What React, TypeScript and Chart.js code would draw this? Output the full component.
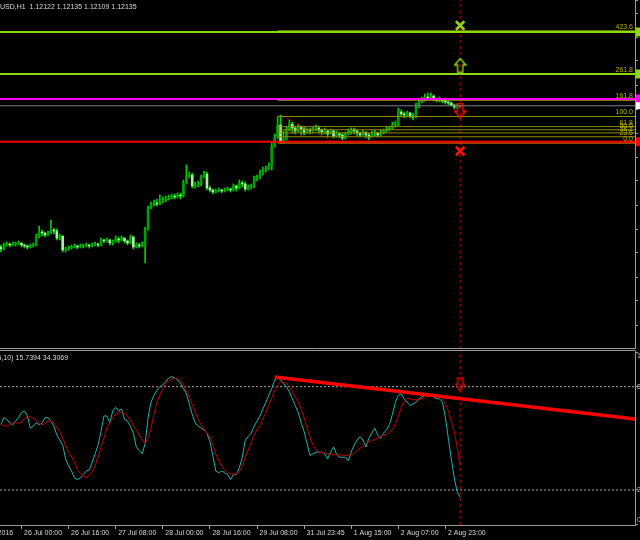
import React, { useEffect, useRef } from "react";
import { Chart, registerables } from "chart.js";

Chart.register(...registerables);

// ---------------- DATA ----------------
const symbolTitle = "EURUSD,H1";
const stochTitle = "Stoch(14,5,10)";

const firstOpen = 1.0931;
const closes = [
  1.0927, 1.0935, 1.0937, 1.0935, 1.0937, 1.0937, 1.0939, 1.0935, 1.0933, 1.0931,
  1.0933, 1.0935, 1.0951, 1.0961, 1.0959, 1.0955, 1.0959, 1.0965, 1.0963, 1.0949,
  1.0953, 1.0925, 1.0927, 1.0929, 1.0931, 1.0933, 1.0931, 1.0933, 1.0933, 1.0935,
  1.0933, 1.0935, 1.0937, 1.0935, 1.0945, 1.0943, 1.0945, 1.0939, 1.0941, 1.0947,
  1.0945, 1.0949, 1.0943, 1.0939, 1.0951, 1.0931, 1.0935, 1.0933, 1.0937, 1.0967,
  1.1009, 1.1017, 1.1019, 1.1017, 1.1021, 1.1025, 1.1027, 1.1029, 1.1033, 1.1031,
  1.1035, 1.1033, 1.1059, 1.1073, 1.1075, 1.1053, 1.1055, 1.1057, 1.1071, 1.1077,
  1.1049, 1.1045, 1.1041, 1.1043, 1.1045, 1.1043, 1.1045, 1.1047, 1.1045, 1.1053,
  1.1049, 1.1059, 1.1057, 1.1047, 1.1051, 1.1053, 1.1065, 1.1069, 1.1077, 1.1085,
  1.1087, 1.1093, 1.1133, 1.1151, 1.1175, 1.1143, 1.1147, 1.1165, 1.1177, 1.1169,
  1.1163, 1.1171, 1.1167, 1.1159, 1.1165, 1.1163, 1.1167, 1.1169, 1.1165, 1.1161,
  1.1163, 1.1157, 1.1163, 1.1153, 1.1157, 1.1155, 1.1149, 1.1157, 1.1161, 1.1165,
  1.1163, 1.1159, 1.1155, 1.1161, 1.1155, 1.1151, 1.1157, 1.1159, 1.1155, 1.1159,
  1.1163, 1.1167, 1.1169, 1.1175, 1.1177, 1.1201, 1.1197, 1.1195, 1.1199, 1.1193,
  1.1191, 1.1211, 1.1221, 1.1225, 1.1231, 1.1229, 1.1233, 1.1227, 1.1225, 1.1227,
  1.1223, 1.1221, 1.1219, 1.1215, 1.1211, 1.12122, 1.12135,
];
const highs = [
  1.0935, 1.0939, 1.0941, 1.0939, 1.0941, 1.0941, 1.0943, 1.0939, 1.0937, 1.0935,
  1.0937, 1.0939, 1.0957, 1.0973, 1.0965, 1.0961, 1.0963, 1.0985, 1.0969, 1.0967,
  1.0957, 1.0953, 1.0931, 1.0933, 1.0935, 1.0937, 1.0935, 1.0937, 1.0937, 1.0939,
  1.0937, 1.0939, 1.0941, 1.0939, 1.0949, 1.0947, 1.0949, 1.0947, 1.0945, 1.0953,
  1.0951, 1.0953, 1.0949, 1.0945, 1.0955, 1.0953, 1.0939, 1.0939, 1.0941, 1.0971,
  1.1013, 1.1021, 1.1025, 1.1027, 1.1035, 1.1031, 1.1033, 1.1035, 1.1037, 1.1037,
  1.1039, 1.1039, 1.1065, 1.1095, 1.1081, 1.1079, 1.1061, 1.1063, 1.1075, 1.1083,
  1.1081, 1.1053, 1.1047, 1.1047, 1.1049, 1.1047, 1.1049, 1.1051, 1.1049, 1.1057,
  1.1055, 1.1065, 1.1063, 1.1061, 1.1055, 1.1057, 1.1073, 1.1075, 1.1085, 1.1091,
  1.1093, 1.1099, 1.1139, 1.1157, 1.1191, 1.1195, 1.1163, 1.1171, 1.1185, 1.1181,
  1.1173, 1.1177, 1.1173, 1.1171, 1.1169, 1.1169, 1.1171, 1.1175, 1.1173, 1.1167,
  1.1169, 1.1165, 1.1167, 1.1165, 1.1163, 1.1161, 1.1159, 1.1161, 1.1167, 1.1169,
  1.1169, 1.1165, 1.1161, 1.1165, 1.1161, 1.1159, 1.1163, 1.1165, 1.1161, 1.1165,
  1.1167, 1.1171, 1.1173, 1.1181, 1.1183, 1.1209, 1.1205, 1.1201, 1.1203, 1.1201,
  1.1199, 1.1219, 1.1227, 1.1231, 1.1237, 1.1239, 1.1239, 1.1235, 1.1229, 1.1231,
  1.1227, 1.1225, 1.1223, 1.1221, 1.1217, 1.1217, 1.12135,
];
const lows = [
  1.0921, 1.0925, 1.0933, 1.0931, 1.0933, 1.0933, 1.0935, 1.0931, 1.0929, 1.0927,
  1.0929, 1.0931, 1.0933, 1.0949, 1.0953, 1.0951, 1.0953, 1.0957, 1.0957, 1.0945,
  1.0945, 1.0921, 1.0921, 1.0925, 1.0927, 1.0929, 1.0927, 1.0929, 1.0929, 1.0931,
  1.0929, 1.0931, 1.0933, 1.0931, 1.0933, 1.0939, 1.0941, 1.0935, 1.0935, 1.0941,
  1.0939, 1.0943, 1.0939, 1.0935, 1.0937, 1.0927, 1.0929, 1.0929, 1.0931, 1.0899,
  1.0965, 1.1007, 1.1013, 1.1013, 1.1015, 1.1019, 1.1021, 1.1025, 1.1027, 1.1027,
  1.1029, 1.1027, 1.1031, 1.1057, 1.1069, 1.1049, 1.1049, 1.1051, 1.1053, 1.1069,
  1.1045, 1.1041, 1.1037, 1.1039, 1.1041, 1.1039, 1.1041, 1.1043, 1.1041, 1.1043,
  1.1043, 1.1047, 1.1051, 1.1043, 1.1045, 1.1047, 1.1049, 1.1063, 1.1067, 1.1075,
  1.1081, 1.1085, 1.1085, 1.1131, 1.1147, 1.1139, 1.1139, 1.1145, 1.1163, 1.1159,
  1.1157, 1.1161, 1.1155, 1.1155, 1.1159, 1.1157, 1.1159, 1.1163, 1.1159, 1.1155,
  1.1157, 1.1151, 1.1157, 1.1149, 1.1151, 1.1149, 1.1145, 1.1147, 1.1155, 1.1157,
  1.1157, 1.1153, 1.1151, 1.1153, 1.1149, 1.1145, 1.1151, 1.1153, 1.1151, 1.1153,
  1.1157, 1.1161, 1.1163, 1.1167, 1.1171, 1.1173, 1.1191, 1.1189, 1.1191, 1.1189,
  1.1185, 1.1189, 1.1209, 1.1219, 1.1223, 1.1225, 1.1227, 1.1223, 1.1221, 1.1221,
  1.1219, 1.1217, 1.1215, 1.1213, 1.1207, 1.1209, 1.12109,
];
const opens = [firstOpen, ...closes.slice(0, -1)];

const stochMain = [
  58, 62, 61, 59, 58, 60, 62, 65, 66, 63,
  56, 57, 59, 58, 59, 62, 62, 60, 57, 52,
  49, 46, 38, 34, 31, 27, 26, 27, 29, 31,
  31.6, 36, 41, 46, 54, 63, 63, 59, 66, 68,
  66, 67, 61, 60, 57, 53, 45, 43, 41, 47,
  62, 71, 75, 78, 80, 81, 83, 85, 86, 85,
  84, 82, 79, 76, 70, 64, 59, 57, 56, 55,
  53, 48, 40, 31, 30, 31, 30, 29, 26, 29,
  29, 33, 39, 49, 51, 53, 57, 60, 63, 67,
  71, 75, 79, 84, 85, 84, 82, 80, 77, 73,
  69, 65, 59, 54, 47, 40, 41, 42, 42, 42,
  41, 38, 42, 45, 41, 39, 39, 39, 37, 42,
  46, 49, 51, 49, 45, 50, 53, 56, 52, 50,
  53, 55, 58, 64, 71, 75, 76, 73, 71, 69,
  70, 71, 73, 74, 75, 76, 75, 74, 73, 73,
  71, 62, 50, 38, 27, 19, 15.7394,
];
const stochSignal = [
  58, 57.5, 57, 58, 59, 59, 58.5, 59.5, 61.5, 63,
  62.5, 61.7, 60.5, 59, 58, 58.5, 60, 60, 59, 56.5,
  54, 50, 46, 42, 39.4, 36, 32, 29.5, 28, 27.1,
  28.5, 30.5, 34, 39, 44.5, 50, 56, 59, 62, 64,
  64.8, 65, 64.5, 63, 60.5, 57.5, 55, 52, 49, 47,
  50, 56, 64, 71, 75, 79, 82, 83.5, 84.5, 85,
  84.5, 83.5, 81, 77.5, 74, 69.5, 65.6, 61, 58, 55.5,
  53, 51, 46, 41, 37, 34, 31.5, 30, 29.5, 29.1,
  29.5, 30.6, 34, 39, 43, 47.5, 52, 55, 57.8, 61.5,
  65, 69, 73.4, 78, 81, 82.7, 82.7, 82, 80, 77,
  74.3, 71, 67, 62, 56, 51, 46, 43.5, 42, 41.8,
  41.5, 41, 40.6, 40.4, 40.4, 40.4, 40.2, 40, 40.2, 40.4,
  41.5, 43, 44.3, 45.5, 47, 48, 48.8, 49.5, 50.3, 51,
  52, 52.4, 53.5, 55, 58.5, 62.7, 68, 71.5, 73.4, 73,
  72.4, 72.4, 72.4, 73, 74, 74.5, 75, 75.3, 75, 74.3,
  73, 70, 66, 60, 54, 45, 34.3069,
];
const stochLevels = [20, 80];
const stochAxisTicks = [0, 20, 80, 100];

const timeLabels = [
  "25 Jul 2016", "26 Jul 00:00", "26 Jul 16:00", "27 Jul 08:00", "28 Jul 00:00", "28 Jul 16:00",
  "29 Jul 08:00", "31 Jul 23:45", "1 Aug 15:00", "2 Aug 07:00", "2 Aug 23:00",
];
const timeLabelBars = [-9, 7, 23, 39, 55, 71, 87, 103, 119, 135, 151];

// Fibonacci retracement
const fibPrice0 = 1.1139;
const fibPrice100 = 1.1192;
const fibStartBar = 94;
const fibLevels = [0, 23.6, 38.2, 50, 61.8, 100, 161.8, 261.8, 423.6];
const fibLabels = ["0.0", "23.6", "38.2", "50.0", "61.8", "100.0", "161.8", "261.8", "423.6"];
const fibTrendBars = [96, 114];

// horizontal lines
const hLinePrices = [1.1361, 1.1277, 1.1227, 1.11416];
const hLineColors = ["#86dc0a", "#86dc0a", "#ff00ff", "#ff0000"];

// signal markers on the last bar
const signalBar = 156;
const markerPrices = [1.1374, 1.1294, 1.1204, 1.1123];
const markerKinds = ["cross", "up", "down", "cross"];
const markerColors = ["#8ed81a", "#8ed81a", "#ff1010", "#ff1010"];
const stochArrowValue = 81.5;

// stochastic trend line
const trendBars = [93, 215.4];
const trendValues = [85.6, 61.2];

// ---------------- LAYOUT CONSTANTS ----------------
const X_MIN = -0.3;
const X_MAX = 215.4;
const PRICE_MIN = 1.0727;
const PRICE_MAX = 1.1425;
const STOCH_MIN = -0.35;
const STOCH_MAX = 100.76;
const FONT = '7px "Liberation Sans", Arial, sans-serif';
const FRAME = "#9a9a9a";
const TEXT = "#d8d8d8";

function makeArrow(dir: string, color: string, w = 13, h = 16): HTMLCanvasElement {
  const c = document.createElement("canvas");
  c.width = w;
  c.height = h;
  const g = c.getContext("2d")!;
  g.strokeStyle = color;
  g.lineWidth = 1.4;
  const cx = w / 2;
  const head = 6.5;
  const sw = 2.6;
  const pts =
    dir === "up"
      ? [[cx, 1], [w - 1, head + 1], [cx + sw, head + 1], [cx + sw, h - 1], [cx - sw, h - 1], [cx - sw, head + 1], [1, head + 1]]
      : [[cx, h - 1], [w - 1, h - head - 1], [cx + sw, h - head - 1], [cx + sw, 1], [cx - sw, 1], [cx - sw, h - head - 1], [1, h - head - 1]];
  g.beginPath();
  pts.forEach((p, i) => (i === 0 ? g.moveTo(p[0], p[1]) : g.lineTo(p[0], p[1])));
  g.closePath();
  g.stroke();
  return c;
}

const fibPrice = (lvl: number) => fibPrice0 + (fibPrice100 - fibPrice0) * (lvl / 100);

function hline(x0: number, x1: number, y: number, color: string, width: number, dash: number[] = [], order = 1) {
  return {
    type: "line",
    data: [{ x: x0, y }, { x: x1, y }],
    borderColor: color,
    borderWidth: width,
    borderDash: dash,
    pointRadius: 0,
    fill: false,
    order,
  };
}

function topConfig(): any {
  const imgs: any = {
    up: makeArrow("up", markerColors[1]),
    down: makeArrow("down", markerColors[2]),
  };
  const datasets: any[] = [];
  datasets.push({
    type: "scatter",
    data: markerPrices.map((p) => ({ x: signalBar, y: p })),
    pointStyle: markerKinds.map((k) => (k === "cross" ? "crossRot" : imgs[k])),
    pointRadius: 6,
    borderColor: markerColors,
    backgroundColor: "rgba(0,0,0,0)",
    borderWidth: 2.5,
    order: 0,
  });
  hLinePrices.forEach((p, i) => datasets.push(hline(X_MIN, X_MAX, p, hLineColors[i], 2, [], 1)));
  datasets.push(hline(X_MIN, X_MAX, closes[closes.length - 1], "#77808e", 1, [], 2));
  fibLevels.forEach((lvl) =>
    datasets.push(hline(fibStartBar, X_MAX, fibPrice(lvl), lvl === 0 ? "#ff9900" : lvl === 161.8 ? "#c8c000" : "#8c8c00", 1, [], 2))
  );
  datasets.push({
    type: "line",
    data: [{ x: fibTrendBars[0], y: fibPrice100 }, { x: fibTrendBars[1], y: fibPrice0 }],
    borderColor: "#c00000",
    borderWidth: 1,
    borderDash: [2, 2],
    pointRadius: 0,
    order: 2,
  });
  datasets.push({
    type: "line",
    data: [{ x: signalBar, y: PRICE_MIN }, { x: signalBar, y: PRICE_MAX }],
    borderColor: "#c80000",
    borderWidth: 1,
    borderDash: [3, 3],
    pointRadius: 0,
    order: 3,
  });
  datasets.push({
    type: "bar",
    data: closes.map((c, i) => ({ x: i, y: [opens[i], c] })),
    backgroundColor: closes.map((c, i) => (c >= opens[i] ? "#00a000" : "#a4f09c")),
    barThickness: 2,
    minBarLength: 1,
    grouped: false,
    borderWidth: 0,
    order: 5,
  });
  datasets.push({
    type: "bar",
    data: closes.map((_, i) => ({ x: i, y: [lows[i], highs[i]] })),
    backgroundColor: "#00d000",
    barThickness: 1,
    grouped: false,
    borderWidth: 0,
    order: 6,
  });

  const overlay = {
    id: "topOverlay",
    afterDraw(chart: any) {
      const { ctx, chartArea } = chart;
      const ys = chart.scales.y;
      ctx.save();
      ctx.font = FONT;
      ctx.fillStyle = TEXT;
      ctx.textBaseline = "middle";
      ctx.textAlign = "left";
      const n = closes.length - 1;
      const header = `${symbolTitle}  ${opens[n].toFixed(5)} ${highs[n].toFixed(5)} ${lows[n].toFixed(5)} ${closes[n].toFixed(5)}`;
      ctx.fillText(header, -ctx.measureText("EUR").width, 7);
      ctx.fillStyle = "#b0b000";
      ctx.textAlign = "right";
      ctx.textBaseline = "bottom";
      fibLevels.forEach((lvl, i) => {
        const y = ys.getPixelForValue(fibPrice(lvl));
        ctx.fillText(fibLabels[i], chartArea.right - 2, y - 0.5);
      });
      hLinePrices.forEach((p, i) => {
        const y = ys.getPixelForValue(p);
        ctx.fillStyle = hLineColors[i];
        ctx.fillRect(chartArea.right + 1, y - 4.5, 8, 9);
      });
      const by = ys.getPixelForValue(closes[n]);
      ctx.fillStyle = "#ffffff";
      ctx.fillRect(chartArea.right + 1, by - 3.5, 8, 7);
      ctx.strokeStyle = FRAME;
      ctx.lineWidth = 1;
      ctx.beginPath();
      ctx.moveTo(0, chartArea.bottom - 0.5);
      ctx.lineTo(chartArea.right + 0.5, chartArea.bottom - 0.5);
      ctx.stroke();
      ctx.restore();
    },
  };

  return {
    type: "bar",
    data: { datasets },
    options: {
      responsive: false,
      maintainAspectRatio: false,
      animation: false,
      events: [],
      layout: { padding: 0, autoPadding: false },
      plugins: { legend: { display: false }, tooltip: { enabled: false }, title: { display: false } },
      scales: {
        x: {
          type: "linear",
          min: X_MIN,
          max: X_MAX,
          bounds: "data",
          offset: false,
          grid: { offset: false },
          display: false,
        },
        y: {
          type: "linear",
          position: "right",
          min: PRICE_MIN,
          max: PRICE_MAX,
          bounds: "data",
          beginAtZero: false,
          ticks: { display: false, stepSize: 0.0048, maxTicksLimit: 100 },
          grid: { drawOnChartArea: false, drawTicks: true, tickLength: 3, color: FRAME },
          border: { display: true, color: FRAME },
          afterFit: (s: any) => {
            s.width = 85;
            s.paddingTop = 0;
            s.paddingBottom = 0;
          },
        },
      },
    },
    plugins: [overlay],
  };
}

function bottomConfig(): any {
  const downArrow = makeArrow("down", "#e00000", 11, 15);
  const datasets: any[] = [];
  datasets.push({
    type: "line",
    data: trendBars.map((b, i) => ({ x: b, y: trendValues[i] })),
    borderColor: "#ff0000",
    borderWidth: 3.5,
    pointRadius: 0,
    order: 0,
  });
  datasets.push({
    type: "scatter",
    data: [{ x: signalBar, y: stochArrowValue }],
    pointStyle: downArrow,
    pointRadius: 6,
    order: 0,
  });
  datasets.push({
    type: "line",
    data: [{ x: signalBar, y: STOCH_MIN }, { x: signalBar, y: STOCH_MAX }],
    borderColor: "#c80000",
    borderWidth: 1,
    borderDash: [3, 3],
    pointRadius: 0,
    order: 1,
  });
  datasets.push({
    type: "line",
    data: stochSignal.map((v, i) => ({ x: i, y: v })),
    borderColor: "#c00000",
    borderWidth: 1,
    pointRadius: 0,
    tension: 0,
    order: 2,
  });
  datasets.push({
    type: "line",
    data: stochMain.map((v, i) => ({ x: i, y: v })),
    borderColor: "#20b2aa",
    borderWidth: 1,
    pointRadius: 0,
    tension: 0,
    order: 3,
  });
  stochLevels.forEach((lvl) => datasets.push(hline(X_MIN, X_MAX, lvl, "#a8a8a8", 1, [2, 2], 4)));

  const overlay = {
    id: "bottomOverlay",
    afterDraw(chart: any) {
      const { ctx, chartArea } = chart;
      const ys = chart.scales.y;
      ctx.save();
      ctx.font = FONT;
      ctx.fillStyle = TEXT;
      ctx.textBaseline = "middle";
      ctx.textAlign = "left";
      const n = stochMain.length - 1;
      const txt = `${stochTitle} ${stochMain[n].toFixed(4)} ${stochSignal[n].toFixed(4)}`;
      ctx.fillText(txt, -ctx.measureText("Stoch(14,5").width + 1.5, 9);
      ctx.fillStyle = "#c0c0c0";
      stochAxisTicks.forEach((v) => {
        let y = ys.getPixelForValue(v);
        y = Math.max(chartArea.top + 5, Math.min(chartArea.bottom - 5, y));
        ctx.fillText(String(v), chartArea.right + 2, y);
      });
      ctx.strokeStyle = FRAME;
      ctx.lineWidth = 1;
      ctx.beginPath();
      ctx.moveTo(0, chartArea.top - 0.5);
      ctx.lineTo(chartArea.right + 0.5, chartArea.top - 0.5);
      ctx.stroke();
      ctx.restore();
    },
  };

  return {
    type: "line",
    data: { datasets },
    options: {
      responsive: false,
      maintainAspectRatio: false,
      animation: false,
      events: [],
      layout: { padding: { top: 2, left: 0, right: 0, bottom: 0 }, autoPadding: false },
      plugins: { legend: { display: false }, tooltip: { enabled: false }, title: { display: false } },
      scales: {
        x: {
          type: "linear",
          min: X_MIN,
          max: X_MAX,
          bounds: "data",
          offset: false,
          position: "bottom",
          afterBuildTicks: (s: any) => {
            s.ticks = timeLabelBars.map((v) => ({ value: v }));
          },
          ticks: {
            autoSkip: false,
            maxRotation: 0,
            minRotation: 0,
            align: "start",
            labelOffset: 2.5,
            padding: 0,
            color: TEXT,
            font: { family: '"Liberation Sans", Arial, sans-serif', size: 7 },
            callback: (_v: any, i: number) => timeLabels[i],
          },
          grid: { drawOnChartArea: false, drawTicks: true, tickLength: 4, color: FRAME },
          border: { display: true, color: FRAME },
          afterFit: (s: any) => {
            s.height = 15;
            s.paddingLeft = 0;
            s.paddingRight = 0;
          },
        },
        y: {
          type: "linear",
          position: "right",
          min: STOCH_MIN,
          max: STOCH_MAX,
          bounds: "data",
          afterBuildTicks: (s: any) => {
            s.ticks = stochAxisTicks.map((v) => ({ value: v }));
          },
          ticks: { display: false },
          grid: { drawOnChartArea: false, drawTicks: true, tickLength: 3, color: FRAME },
          border: { display: true, color: FRAME },
          afterFit: (s: any) => {
            s.width = 85;
            s.paddingTop = 0;
            s.paddingBottom = 0;
          },
        },
      },
    },
    plugins: [overlay],
  };
}

export default function App() {
  const topRef = useRef<HTMLCanvasElement>(null);
  const botRef = useRef<HTMLCanvasElement>(null);

  useEffect(() => {
    const top = new Chart(topRef.current as HTMLCanvasElement, topConfig());
    const bot = new Chart(botRef.current as HTMLCanvasElement, bottomConfig());
    return () => {
      top.destroy();
      bot.destroy();
    };
  }, []);

  return (
    <div
      style={{
        position: "fixed",
        left: 0,
        top: 0,
        width: 640,
        height: 540,
        overflow: "hidden",
        background: "#000",
      }}
    >
      <canvas ref={topRef} width={720} height={349} style={{ position: "absolute", left: 0, top: 0 }} />
      <canvas ref={botRef} width={720} height={191} style={{ position: "absolute", left: 0, top: 349 }} />
    </div>
  );
}
